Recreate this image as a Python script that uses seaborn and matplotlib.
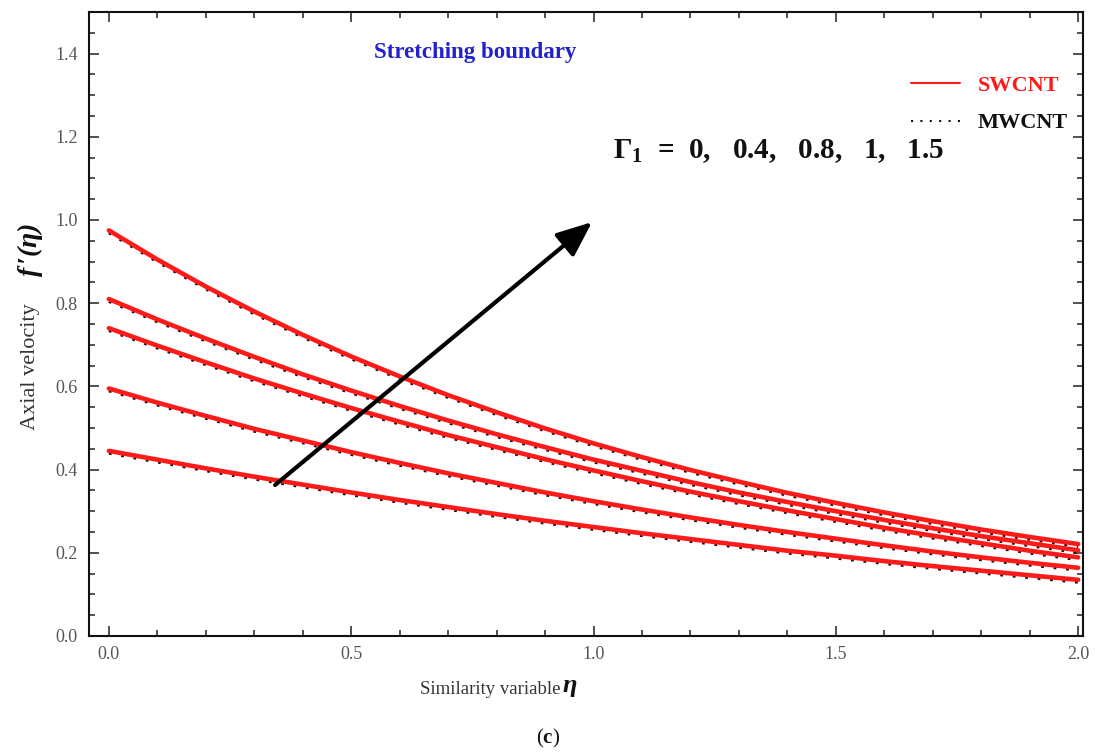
import numpy as np
import pandas as pd
import seaborn as sns
import matplotlib
matplotlib.use("Agg")
import matplotlib.pyplot as plt
from matplotlib.transforms import offset_copy
from matplotlib.lines import Line2D
from matplotlib.ticker import MultipleLocator

# ---- data ----
eta = [0.0, 0.1, 0.2, 0.3, 0.4, 0.5, 0.6, 0.7, 0.8, 0.9, 1.0,
       1.1, 1.2, 1.3, 1.4, 1.5, 1.6, 1.7, 1.8, 1.9, 2.0]
gamma_labels = ["0", "0.4", "0.8", "1", "1.5"]
curve_a = [0.975, 0.905, 0.840, 0.780, 0.724, 0.672, 0.624, 0.579, 0.538, 0.499, 0.463,
           0.430, 0.399, 0.371, 0.344, 0.320, 0.297, 0.276, 0.256, 0.238, 0.221]
curve_b = [0.810, 0.761, 0.715, 0.671, 0.629, 0.590, 0.553, 0.518, 0.485, 0.454, 0.424,
           0.397, 0.370, 0.345, 0.322, 0.300, 0.279, 0.259, 0.240, 0.223, 0.206]
curve_c = [0.740, 0.698, 0.658, 0.619, 0.583, 0.548, 0.515, 0.483, 0.454, 0.425, 0.398,
           0.372, 0.347, 0.324, 0.302, 0.281, 0.260, 0.241, 0.223, 0.205, 0.189]
curve_d = [0.595, 0.561, 0.529, 0.498, 0.470, 0.442, 0.416, 0.391, 0.368, 0.345, 0.324,
           0.304, 0.285, 0.267, 0.250, 0.234, 0.218, 0.203, 0.189, 0.176, 0.164]
curve_e = [0.445, 0.424, 0.403, 0.383, 0.364, 0.345, 0.327, 0.310, 0.293, 0.277, 0.262,
           0.247, 0.233, 0.219, 0.205, 0.193, 0.180, 0.168, 0.157, 0.146, 0.135]
curves = [curve_e, curve_d, curve_c, curve_b, curve_a]

rows = []
for g, c in zip(gamma_labels, curves):
    for x, y in zip(eta, c):
        rows.append({"eta": x, "f": y, "gamma": g})
df = pd.DataFrame(rows)

sns.set_theme(style="ticks")
plt.rcParams["font.family"] = ["Liberation Serif", "DejaVu Serif"]
plt.rcParams["mathtext.fontset"] = "custom"
plt.rcParams["mathtext.rm"] = "Liberation Serif"
plt.rcParams["mathtext.it"] = "Liberation Serif:italic"
plt.rcParams["mathtext.bf"] = "Liberation Serif:bold:italic"
plt.rcParams["mathtext.sf"] = "Liberation Serif:bold"

fig = plt.figure(figsize=(10.96, 7.56), dpi=100)
ax = fig.add_axes([89 / 1096, 120 / 756, 994 / 1096, 624 / 756])

red_pal = {g: "#ff1a1a" for g in gamma_labels}
blk_pal = {g: "#111111" for g in gamma_labels}

# SWCNT solid red
sns.lineplot(data=df, x="eta", y="f", hue="gamma", palette=red_pal,
             linewidth=3.3, legend=False, ax=ax, zorder=3, sort=False)
# MWCNT dotted black (slightly offset downward, as in the reference)
shifted = offset_copy(ax.transData, fig=fig, x=0, y=-2.5, units="dots")
n_before = len(ax.lines)
sns.lineplot(data=df, x="eta", y="f", hue="gamma", palette=blk_pal,
             linewidth=2.0, legend=False, ax=ax, zorder=2, sort=False)
for ln in ax.lines[n_before:]:
    ln.set_linestyle((0, (1, 3.5)))
    ln.set_transform(shifted)

ax.set_xlim(-0.041, 2.010)
ax.set_ylim(0.0, 1.5)
ax.xaxis.set_major_locator(MultipleLocator(0.5))
ax.xaxis.set_minor_locator(MultipleLocator(0.1))
ax.yaxis.set_major_locator(MultipleLocator(0.2))
ax.yaxis.set_minor_locator(MultipleLocator(0.05))
ax.tick_params(which="both", direction="in", top=True, right=True,
               colors="#222222", labelcolor="#555555", width=1.1)
ax.tick_params(which="major", length=7, labelsize=13)
ax.tick_params(which="minor", length=4)
ax.tick_params(axis="x", which="major", pad=7)
ax.tick_params(axis="y", which="major", pad=8)
ax.set_xticks([0.0, 0.5, 1.0, 1.5, 2.0])
ax.set_xticklabels(["0.0", "0.5", "1.0", "1.5", "2.0"])
ax.set_yticks([0.0, 0.2, 0.4, 0.6, 0.8, 1.0, 1.2, 1.4])
ax.set_yticklabels(["0.0", "0.2", "0.4", "0.6", "0.8", "1.0", "1.2", "1.4"])
for s in ax.spines.values():
    s.set_linewidth(1.5)
    s.set_color("#111111")

ax.set_xlabel("")
ax.set_ylabel("")
# axis titles (plain part + bold-italic symbol, as in the reference)
fig.text(490 / 1096, 1 - 690 / 756, "Similarity variable", fontsize=13.5,
         color="#333333", ha="center", va="center")
fig.text(570 / 1096, 1 - 688 / 756, r"$\mathbf{\eta}$", fontsize=19,
         color="#111111", ha="center", va="center")
fig.text(30 / 1096, 1 - 367 / 756, "Axial velocity", fontsize=16,
         color="#333333", ha="center", va="center", rotation=90)
fig.text(30 / 1096, 1 - 250 / 756, r"$\mathbf{f\,{\prime}(\eta)}$", fontsize=20,
         color="#111111", ha="center", va="center", rotation=90)

ax.text(0.755, 1.402, "Stretching boundary", color="#2222cc", fontsize=16.5,
        fontweight="bold", ha="center", va="center")
ax.text(1.04, 1.166, r"$\mathsf{\Gamma_1}$  =  0,   0.4,   0.8,   1,   1.5", fontsize=21,
        fontweight="bold", ha="left", va="center", color="#111111")
ax.annotate("", xy=(0.997, 0.995), xytext=(0.343, 0.363),
            arrowprops=dict(arrowstyle="-|>,head_length=1.8,head_width=0.75",
                            color="black", lw=3, shrinkA=0, shrinkB=0))

handles = [Line2D([], [], color="#ff1a1a", lw=1.5),
           Line2D([], [], color="#111111", lw=1.5, linestyle=(0, (1, 3.5)))]
leg = ax.legend(handles, ["SWCNT", "MWCNT"], loc="upper right",
                bbox_to_anchor=(1.005, 0.93), frameon=False,
                handlelength=2.2, labelspacing=0.75, handletextpad=0.8,
                prop={"weight": "bold", "size": 16})
leg.get_texts()[0].set_color("#ff1a1a")
leg.get_texts()[1].set_color("#111111")

fig.text(548 / 1096, 1 - 738 / 756, r"($\mathsf{c}$)", fontsize=15,
         ha="center", va="center", color="#111111")

fig.savefig("out.png", dpi=100)
